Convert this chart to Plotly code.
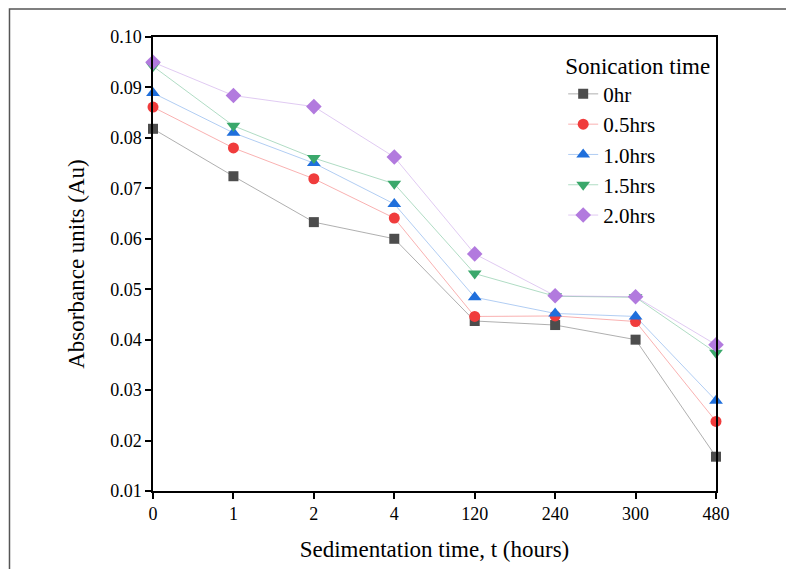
import plotly.graph_objects as go

categories = ["0", "1", "2", "4", "120", "240", "300", "480"]
series_names = ["0hr", "0.5hrs", "1.0hrs", "1.5hrs", "2.0hrs"]
y_0hr = [0.0818, 0.0724, 0.0633, 0.0600, 0.0437, 0.0429, 0.0400, 0.0168]
y_05hrs = [0.0861, 0.0780, 0.0719, 0.0641, 0.0446, 0.0447, 0.0436, 0.0238]
y_10hrs = [0.0889, 0.0810, 0.0750, 0.0669, 0.0484, 0.0452, 0.0446, 0.0279]
y_15hrs = [0.0942, 0.0824, 0.0760, 0.0709, 0.0531, 0.0486, 0.0484, 0.0374]
y_20hrs = [0.0950, 0.0884, 0.0862, 0.0762, 0.0570, 0.0487, 0.0485, 0.0390]
y_ticks = [0.01, 0.02, 0.03, 0.04, 0.05, 0.06, 0.07, 0.08, 0.09, 0.10]

series = [y_0hr, y_05hrs, y_10hrs, y_15hrs, y_20hrs]
marker_colors = ["#4d4d4d", "#f03c3c", "#1f6fdc", "#3aa86b", "#b27ade"]
line_colors = ["rgba(77,77,77,0.45)", "rgba(240,60,60,0.4)", "rgba(31,111,220,0.35)",
               "rgba(58,168,107,0.4)", "rgba(178,122,222,0.4)"]
symbols = ["square", "circle", "triangle-up", "triangle-down", "diamond"]
sizes = [10, 11, 12, 12, 12]

xpos = list(range(len(categories)))
fig = go.Figure()
for name, ys, mc, lc, sym, sz in zip(series_names, series, marker_colors, line_colors, symbols, sizes):
    fig.add_trace(go.Scatter(
        x=xpos, y=ys, name=name, mode="lines+markers",
        line=dict(color=lc, width=1),
        marker=dict(symbol=sym, color=mc, size=sz, line=dict(width=0)),
        cliponaxis=False,
    ))

font_family = "'Liberation Serif', 'Times New Roman', Times, serif"
fig.update_layout(
    width=786, height=561,
    margin=dict(l=145, r=78, t=29, b=78, autoexpand=False),
    paper_bgcolor="white", plot_bgcolor="white",
    font=dict(family=font_family, color="black"),
    showlegend=True,
    legend=dict(
        x=0.995, y=0.985, xanchor="right", yanchor="top",
        bgcolor="rgba(0,0,0,0)",
        font=dict(family=font_family, size=21, color="black"),
        title=dict(text="Sonication time", font=dict(family=font_family, size=23, color="black")),
        tracegroupgap=0,
    ),
    xaxis=dict(
        tickmode="array", tickvals=xpos, ticktext=categories,
        range=[0, len(categories) - 1],
        showgrid=False, zeroline=False, automargin=False,
        showline=True, linecolor="black", linewidth=1.5, mirror=True,
        ticks="outside", ticklen=6, tickwidth=1.5, tickcolor="black",
        tickfont=dict(family=font_family, size=18, color="black"),
        title=dict(text="Sedimentation time, t (hours)", font=dict(family=font_family, size=23, color="black"), standoff=18),
    ),
    yaxis=dict(
        range=[0.01, 0.10],
        tickmode="array", tickvals=y_ticks, ticktext=[f"{v:.2f}" for v in y_ticks],
        showgrid=False, zeroline=False, automargin=False,
        showline=True, linecolor="black", linewidth=1.5, mirror=True,
        ticks="outside", ticklen=6, tickwidth=1.5, tickcolor="black",
        tickfont=dict(family=font_family, size=18, color="black"),
        title=dict(text="Absorbance units (Au)", font=dict(family=font_family, size=23, color="black"), standoff=19),
    ),
    shapes=[dict(
        type="rect", xref="paper", yref="paper",
        x0=-0.2549, x1=1.2, y0=-0.3, y1=1.0617,
        line=dict(color="#555555", width=1.5), fillcolor="rgba(0,0,0,0)", layer="below",
    )],
)

fig.write_html("out.html")
